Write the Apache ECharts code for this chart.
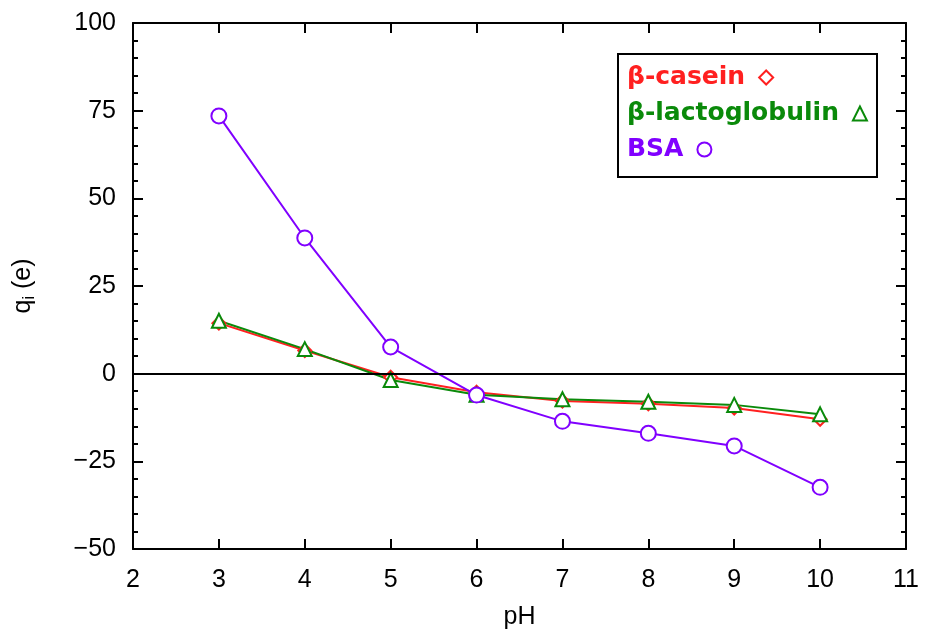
<!DOCTYPE html>
<html>
<head>
<meta charset="utf-8">
<script src="https://cdn.jsdelivr.net/npm/echarts@6/dist/echarts.min.js"></script>
<style>
  html, body { margin: 0; padding: 0; background: #fff; }
  #chart { width: 925px; height: 630px; }
</style>
</head>
<body>
<div id="chart"></div>
<script>
const phValues = [3, 4, 5, 6, 7, 8, 9, 10];
const caseinCharge = [14.4, 6.6, -1.0, -5.3, -7.8, -8.6, -9.8, -13.0];
const lactoCharge = [15.1, 7.0, -1.8, -6.0, -7.3, -8.0, -8.9, -11.6];
const bsaCharge = [73.5, 38.7, 7.6, -6.1, -13.6, -17.0, -20.6, -32.4];

const seriesNames = ["β-casein", "β-lactoglobulin", "BSA"];
const seriesColors = ["#ff2020", "#0a8a0a", "#8000ff"];
const seriesSymbols = ["emptyDiamond", "emptyTriangle", "emptyCircle"];

const toPoints = (ys) => phValues.map((x, i) => [x, ys[i]]);

const axisFont = { fontFamily: "Liberation Sans", fontSize: 25, color: "#000" };
const frameLine = { show: true, onZero: false, lineStyle: { color: "#000", width: 2 } };
const majorTick = { inside: true, length: 10, lineStyle: { color: "#000", width: 2 } };
const minorTick = { show: true, splitNumber: 5, length: 5, lineStyle: { color: "#000", width: 2 } };

// one legend per entry so the text stays left aligned with the symbol after it
const legendTops = [65, 101, 137];
const legends = seriesNames.map((name, i) => ({
  orient: "vertical",
  align: "right",
  left: 627,
  top: legendTops[i],
  padding: 0,
  itemWidth: 14,
  itemHeight: 14,
  itemStyle: { borderWidth: 2 },
  textStyle: {
    fontFamily: "DejaVu Sans",
    fontWeight: "bold",
    fontSize: 25,
    color: seriesColors[i],
    padding: [0, 9, 0, 0],
  },
  data: [{ name: name, icon: seriesSymbols[i] }],
}));

const chart = echarts.init(document.getElementById("chart"));

chart.setOption({
  animation: false,
  backgroundColor: "#fff",
  grid: { left: 133, right: 19, top: 23, bottom: 81, outerBoundsMode: "none" },
  graphic: [
    {
      type: "rect",
      left: 617,
      top: 53,
      z: 3,
      shape: { width: 259, height: 123 },
      style: { fill: "#fff", stroke: "#000", lineWidth: 2 },
    },
  ],
  legend: legends,
  xAxis: [
    {
      type: "value",
      min: 2,
      max: 11,
      interval: 1,
      name: "pH",
      nameLocation: "middle",
      nameGap: 56,
      nameTextStyle: axisFont,
      axisLine: frameLine,
      axisTick: majorTick,
      axisLabel: Object.assign({ margin: 19 }, axisFont),
      splitLine: { show: false },
    },
    {
      type: "value",
      position: "top",
      min: 2,
      max: 11,
      interval: 1,
      axisLine: frameLine,
      axisTick: majorTick,
      axisLabel: { show: false },
      splitLine: { show: false },
    },
  ],
  yAxis: [
    {
      type: "value",
      min: -50,
      max: 100,
      interval: 25,
      name: "{q|q}{sub|i}{q| (e)}",
      nameLocation: "middle",
      nameGap: 95,
      nameTextStyle: {
        rich: {
          q: { fontFamily: "Liberation Sans", fontSize: 25, color: "#000" },
          sub: { fontFamily: "Liberation Sans", fontSize: 16, color: "#000", padding: [13, 0, 0, 0] },
        },
      },
      axisLine: frameLine,
      axisTick: majorTick,
      minorTick: minorTick,
      axisLabel: Object.assign(
        { margin: 17, formatter: (v) => String(v).replace("-", "\u2212") },
        axisFont
      ),
      splitLine: { show: false },
    },
    {
      type: "value",
      position: "right",
      min: -50,
      max: 100,
      interval: 25,
      axisLine: frameLine,
      axisTick: majorTick,
      minorTick: minorTick,
      axisLabel: { show: false },
      splitLine: { show: false },
    },
  ],
  series: [
    {
      name: seriesNames[0],
      type: "line",
      data: toPoints(caseinCharge),
      symbol: seriesSymbols[0],
      symbolSize: 13,
      color: seriesColors[0],
      lineStyle: { width: 2 },
      itemStyle: { borderWidth: 2 },
      markLine: {
        silent: true,
        symbol: "none",
        label: { show: false },
        lineStyle: { color: "#000", width: 2, type: "solid" },
        data: [{ yAxis: 0 }],
      },
    },
    {
      name: seriesNames[1],
      type: "line",
      data: toPoints(lactoCharge),
      symbol: seriesSymbols[1],
      symbolSize: 14,
      color: seriesColors[1],
      lineStyle: { width: 2 },
      itemStyle: { borderWidth: 2 },
    },
    {
      name: seriesNames[2],
      type: "line",
      data: toPoints(bsaCharge),
      symbol: seriesSymbols[2],
      symbolSize: 15,
      color: seriesColors[2],
      lineStyle: { width: 2 },
      itemStyle: { borderWidth: 2 },
    },
  ],
});
</script>
</body>
</html>
